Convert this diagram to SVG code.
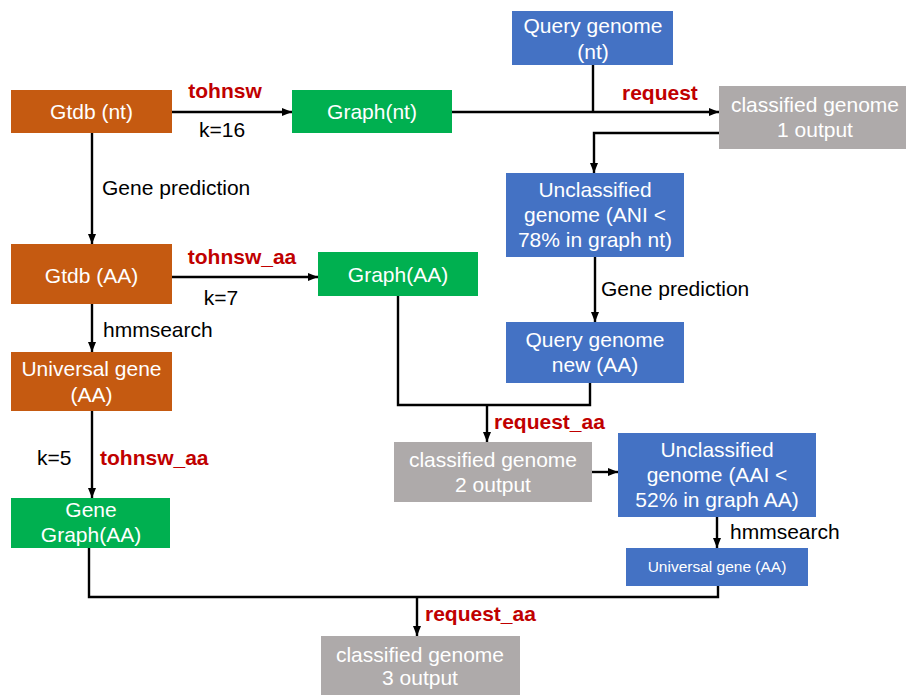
<svg xmlns="http://www.w3.org/2000/svg" width="906" height="698" viewBox="0 0 906 698">
<style>
text{font-family:"Liberation Sans",Arial,Helvetica,sans-serif;font-size:21px}
.w{fill:#fff;text-anchor:middle}
.k{fill:#000}
.r{fill:#C00000;font-weight:bold}
.or{fill:#C55A11}
.gr{fill:#00B050}
.bl{fill:#4472C4}
.gy{fill:#AEAAAA}
.c{fill:none;stroke:#000;stroke-width:2.4}
.a{marker-end:url(#ah)}
</style>
<defs>
<marker id="ah" markerUnits="userSpaceOnUse" markerWidth="10" markerHeight="10" viewBox="0 0 10 10" refX="10" refY="5" orient="auto">
<path d="M0,1 L10,5 L0,9 Z" fill="#000"/>
</marker>
</defs>
<rect width="906" height="698" fill="#fff"/>
<g id="connectors">
<path class="c a" d="M172,112 H292"/>
<path class="c a" d="M92,133 V244"/>
<path class="c a" d="M172,277 H318"/>
<path class="c a" d="M92,304 V352"/>
<path class="c a" d="M92,411 V498"/>
<path class="c a" d="M452,112 H719"/>
<path class="c" d="M593,65 V112"/>
<path class="c a" d="M719,133 H594 V173"/>
<path class="c a" d="M595,257 V322"/>
<path class="c" d="M398,296 V405 H590 V383"/>
<path class="c a" d="M487,405 V442"/>
<path class="c a" d="M592,472 H618"/>
<path class="c a" d="M717,517 V548"/>
<path class="c" d="M89,548 V597 H718 V586"/>
<path class="c a" d="M417,597 V636"/>
</g>
<g id="labels">
<text class="r" x="225" y="98" text-anchor="middle">tohnsw</text>
<text class="k" x="222" y="137" text-anchor="middle">k=16</text>
<text class="k" x="102" y="195">Gene prediction</text>
<text class="r" x="242" y="264" text-anchor="middle">tohnsw_aa</text>
<text class="k" x="221" y="305" text-anchor="middle">k=7</text>
<text class="k" x="103" y="337">hmmsearch</text>
<text class="k" x="37" y="465">k=5</text>
<text class="r" x="100" y="465">tohnsw_aa</text>
<text class="r" x="622" y="100">request</text>
<text class="k" x="601" y="296">Gene prediction</text>
<text class="r" x="494" y="429">request_aa</text>
<text class="k" x="730" y="539">hmmsearch</text>
<text class="r" x="425" y="621">request_aa</text>
</g>
<g id="gtdb_nt"><rect class="or" x="11" y="90" width="161" height="43"/><text class="w" x="91.5" y="119">Gtdb (nt)</text></g>
<g id="graph_nt"><rect class="gr" x="292" y="90" width="160" height="43"/><text class="w" x="372" y="119">Graph(nt)</text></g>
<g id="gtdb_aa"><rect class="or" x="11" y="244" width="161" height="60"/><text class="w" x="91.5" y="283">Gtdb (AA)</text></g>
<g id="graph_aa"><rect class="gr" x="318" y="252" width="160" height="44"/><text class="w" x="398" y="282">Graph(AA)</text></g>
<g id="universal_gene"><rect class="or" x="11" y="352" width="161" height="59"/><text class="w" x="91.5" y="376">Universal gene</text><text class="w" x="91.5" y="402">(AA)</text></g>
<g id="gene_graph"><rect class="gr" x="11" y="498" width="159" height="50"/><text class="w" x="91" y="517">Gene</text><text class="w" x="91" y="542">Graph(AA)</text></g>
<g id="query_nt"><rect class="bl" x="512" y="11" width="161" height="54"/><text class="w" x="593" y="33">Query genome</text><text class="w" x="593" y="59">(nt)</text></g>
<g id="classified1"><rect class="gy" x="719" y="86" width="187" height="63"/><text class="w" x="815" y="112">classified genome</text><text class="w" x="815" y="137">1 output</text></g>
<g id="unclassified_ani"><rect class="bl" x="506" y="173" width="178" height="84"/><text class="w" x="595" y="197">Unclassified</text><text class="w" x="595" y="222">genome (ANI &lt;</text><text class="w" x="595" y="247">78% in graph nt)</text></g>
<g id="query_new"><rect class="bl" x="506" y="322" width="178" height="61"/><text class="w" x="595" y="347">Query genome</text><text class="w" x="595" y="372">new (AA)</text></g>
<g id="classified2"><rect class="gy" x="394" y="442" width="198" height="60"/><text class="w" x="493" y="467">classified genome</text><text class="w" x="493" y="492">2 output</text></g>
<g id="unclassified_aai"><rect class="bl" x="618" y="433" width="198" height="84"/><text class="w" x="717" y="457">Unclassified</text><text class="w" x="717" y="482">genome (AAI &lt;</text><text class="w" x="717" y="507">52% in graph AA)</text></g>
<g id="universal_small"><rect class="bl" x="626" y="548" width="182" height="38"/><text class="w" x="717" y="572" style="font-size:15.5px">Universal gene (AA)</text></g>
<g id="classified3"><rect class="gy" x="321" y="636" width="199" height="59"/><text class="w" x="420" y="662">classified genome</text><text class="w" x="420" y="685">3 output</text></g>
</svg>
